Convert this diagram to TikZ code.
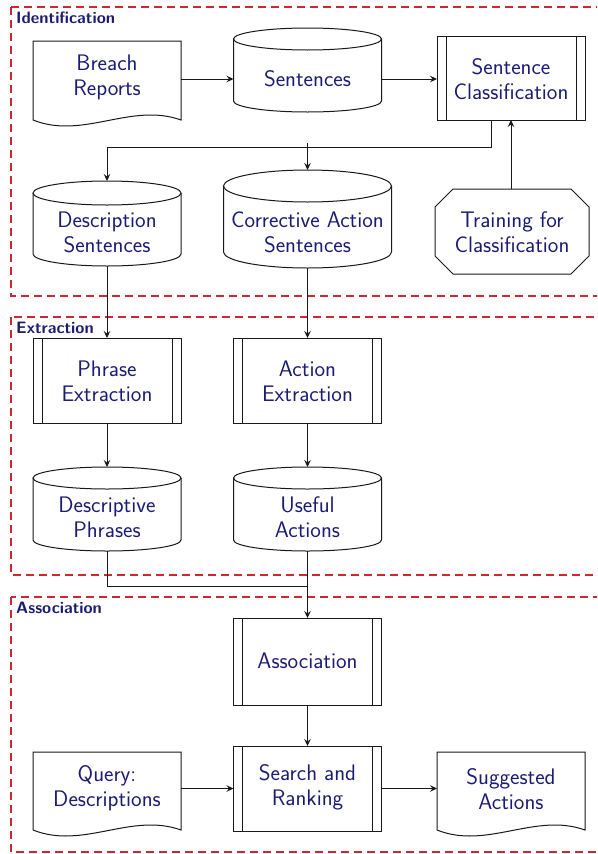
\documentclass[tikz,border=0pt]{standalone}
\usetikzlibrary{arrows.meta}
\definecolor{txt}{RGB}{28,28,115}
\definecolor{frm}{RGB}{205,40,50}
\begin{document}
\begin{tikzpicture}[x=1pt,y=-1pt,
  shp/.style={minimum width=148pt,minimum height=#1,inner sep=0pt,outer sep=0pt},
  lbl/.style={text=txt,font=\fontsize{22.5}{25}\selectfont\sffamily,align=center,inner sep=0pt},
  ttl/.style={text=txt,font=\fontsize{16.5}{18}\selectfont\sffamily\bfseries,anchor=base west,inner sep=0pt},
  outl/.style={draw=black!90,line width=1pt},
  arr/.style={draw=black!90,line width=1pt,-{Stealth[length=7pt,width=6.5pt,inset=2.5pt]}},
  lnk/.style={draw=black!90,line width=1pt},
  frame/.style={draw=frm,line width=1.1pt,dash pattern=on 8pt off 5pt}]
\clip (0,0) rectangle (597,854);
\fill[white] (0,0) rectangle (597,854);

% frames
\draw[frame] (11,7) rectangle (610,296);
\draw[frame] (11,317) rectangle (610,575);
\draw[frame] (11,597) rectangle (610,852);
\node[ttl] (t1) at (16,23) {Identification};
\node[ttl] (t2) at (16,333) {Extraction};
\node[ttl] (t3) at (16,613) {Association};

% shape nodes
\node[shp=79pt] (breach) at (107,80.5) {};
\node[shp=84pt] (sent) at (307.5,70) {};
\node[shp=84pt] (cls) at (511,78) {};
\node[shp=85pt] (desc) at (107,223.5) {};
\node[shp=98pt,minimum width=168pt] (corr) at (307.5,219) {};
\node[shp=85pt,minimum width=154pt] (train) at (512,231.5) {};
\node[shp=85pt] (phr) at (107,380.5) {};
\node[shp=85pt] (act) at (307.5,380.5) {};
\node[shp=84pt] (dphr) at (107,509) {};
\node[shp=84pt] (usef) at (307.5,509) {};
\node[shp=87pt] (assoc) at (307.5,661.5) {};
\node[shp=78pt] (query) at (107,791) {};
\node[shp=85pt] (search) at (307.5,788.5) {};
\node[shp=78pt] (sugg) at (511,791) {};

% documents
\foreach \n in {breach,query,sugg}{
  \draw[outl] (\n.south west) -- (\n.north west) -- (\n.north east) -- (\n.south east)
    .. controls ([xshift=-50pt,yshift=18pt]\n.south east) and ([xshift=50pt,yshift=-20pt]\n.south west) .. (\n.south west) -- cycle;
}
% cylinders
\foreach \n/\rx/\ry in {sent/74/11,desc/74/12,dphr/74/11,usef/74/11,corr/84/16}{
  \draw[outl] ([yshift=-\ry pt]\n.north west) -- ([yshift=\ry pt]\n.south west)
    arc[start angle=180,end angle=360,x radius=\rx pt,y radius=\ry pt]
    -- ([yshift=-\ry pt]\n.north east);
  \draw[outl] ([yshift=-\ry pt]\n.north) ellipse[x radius=\rx pt,y radius=\ry pt];
}
% predefined processes
\foreach \n in {cls,phr,act,assoc,search}{
  \draw[outl] (\n.north west) rectangle (\n.south east);
  \draw[outl] ([xshift=9pt]\n.north west) -- ([xshift=9pt]\n.south west);
  \draw[outl] ([xshift=-9pt]\n.north east) -- ([xshift=-9pt]\n.south east);
}
% octagon
\draw[outl] ([xshift=18pt]train.north west) -- ([xshift=-18pt]train.north east)
  -- ([yshift=-18pt]train.north east) -- ([yshift=18pt]train.south east)
  -- ([xshift=-18pt]train.south east) -- ([xshift=18pt]train.south west)
  -- ([yshift=18pt]train.south west) -- ([yshift=-18pt]train.north west) -- cycle;

% labels
\node[lbl] (breach-t) at (107,77) {Breach\\Reports};
\node[lbl] (sent-t) at (307.5,79) {Sentences};
\node[lbl] (cls-t) at (511,79) {Sentence\\Classification};
\node[lbl] (desc-t) at (107,232) {Description\\Sentences};
\node[lbl] (corr-t) at (307.5,232) {Corrective Action\\Sentences};
\node[lbl] (train-t) at (512,232) {Training for\\Classification};
\node[lbl] (phr-t) at (107,381) {Phrase\\Extraction};
\node[lbl] (act-t) at (307.5,381) {Action\\Extraction};
\node[lbl] (dphr-t) at (107,517) {Descriptive\\Phrases};
\node[lbl] (usef-t) at (307.5,517) {Useful\\Actions};
\node[lbl] (assoc-t) at (307.5,661) {Association};
\node[lbl] (query-t) at (107,788) {Query:\\Descriptions};
\node[lbl] (search-t) at (307.5,787) {Search and\\Ranking};
\node[lbl] (sugg-t) at (511,789) {Suggested\\Actions};

% connectors
\coordinate (j1) at (491,147);
\coordinate (j2) at (307.5,586);
\draw[arr] (breach.east |- 0,79) -- (sent.west |- 0,79);
\draw[arr] (sent.east |- 0,79) -- (cls.west |- 0,79);
\draw[arr] (cls.south -| j1) -- (j1) -| (desc.north);
\draw[arr] ([yshift=4pt]j1 -| corr.north) -- (corr.north);
\draw[arr] (train.north -| 511,0) -- (cls.south -| 511,0);
\draw[arr] (desc.south) -- (phr.north);
\draw[arr] (corr.south) -- (act.north);
\draw[arr] (phr.south) -- (dphr.north);
\draw[arr] (act.south) -- (usef.north);
\draw[lnk] (dphr.south) |- (j2);
\draw[arr] (usef.south) -- (assoc.north);
\draw[arr] (assoc.south) -- (search.north);
\draw[arr] (query.east |- search.west) -- (search.west);
\draw[arr] (search.east) -- (search.east -| sugg.west);
\end{tikzpicture}
\end{document}
